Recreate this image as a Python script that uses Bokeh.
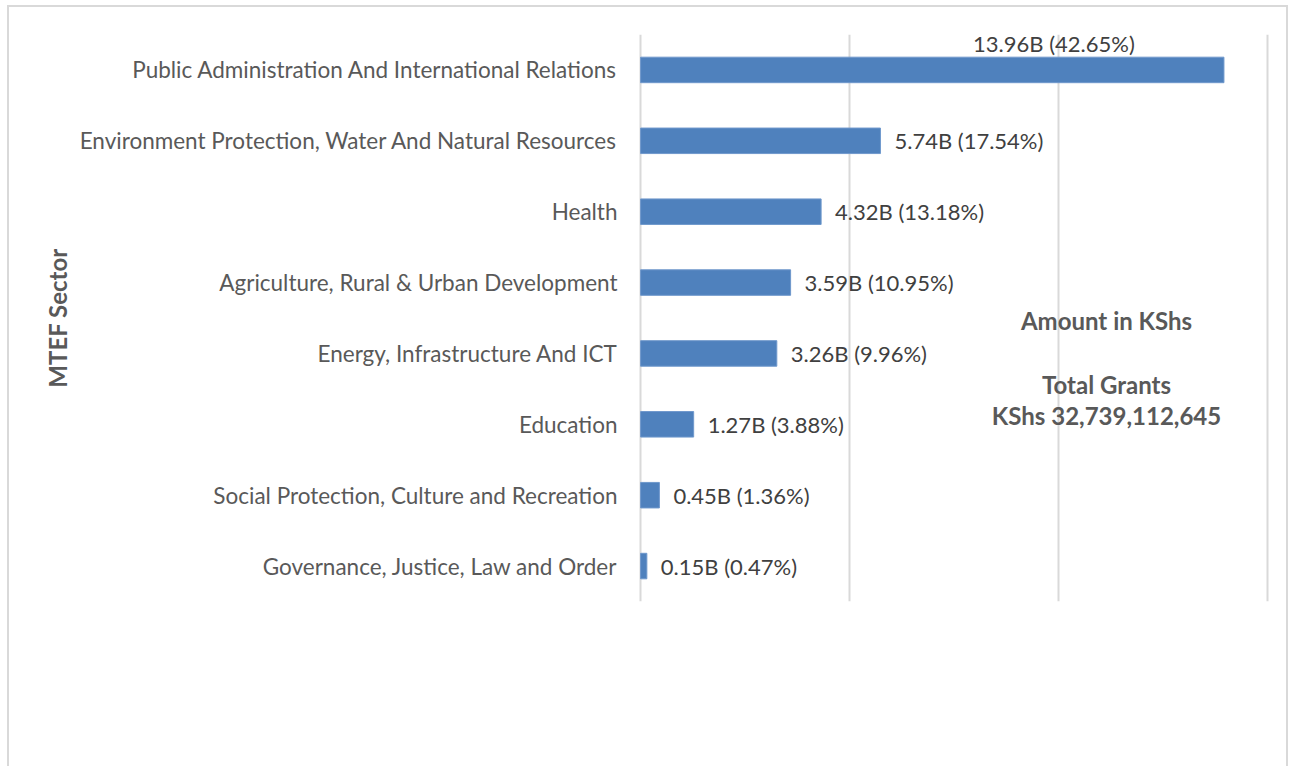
from bokeh.plotting import figure
from bokeh.models import ColumnDataSource, FactorRange, Range1d, FixedTicker, LabelSet, Label
from bokeh.core.properties import value
from bokeh.embed import file_html
from bokeh.resources import INLINE

# ---- data (top to bottom as shown) ----
sectors = [
    "Public Administration And International Relations",
    "Environment Protection, Water And Natural Resources",
    "Health",
    "Agriculture, Rural & Urban Development",
    "Energy, Infrastructure And ICT",
    "Education",
    "Social Protection, Culture and Recreation",
    "Governance, Justice, Law and Order",
]
amounts_b = [13.96, 5.74, 4.32, 3.59, 3.26, 1.27, 0.45, 0.15]
shares_pct = [42.65, 17.54, 13.18, 10.95, 9.96, 3.88, 1.36, 0.47]
grid_ticks = [0, 5, 10, 15]
note_lines = ["Amount in KShs", "Total Grants", "KShs 32,739,112,645"]

FONT = "Lato"
BAR = "#4f81bd"
GRID = "#d9d9d9"

labels = [f"{a:.2f}B ({s:.2f}%)" for a, s in zip(amounts_b, shares_pct)]

p = figure(
    width=1281, height=766,
    y_range=FactorRange(factors=list(reversed(sectors))),
    x_range=Range1d(-0.05, 15.05),
    output_backend="svg", toolbar_location=None,
    min_border_left=629, min_border_right=21,
    min_border_top=27, min_border_bottom=172,
)
p.styles = {"border": "2px solid #d9d9d9", "margin-left": "7px", "margin-top": "5px"}
p.outline_line_color = None
p.background_fill_color = "white"
p.border_fill_color = "white"

src = ColumnDataSource(dict(y=sectors, x=amounts_b, lab=labels))
p.hbar(y="y", right="x", left=0, height=0.36, source=src,
       fill_color=BAR, line_color="#6f98cc", line_width=1)

# value labels (all but the first sit right of the bar end)
rest = ColumnDataSource(dict(y=sectors[1:], x=amounts_b[1:], lab=labels[1:]))
p.add_layout(LabelSet(x="x", y="y", text="lab", source=rest, x_offset=14,
                      text_baseline="middle", text_font=value(FONT),
                      text_font_size="22px", text_color="#404040"))
top = ColumnDataSource(dict(y=sectors[:1], x=amounts_b[:1], lab=labels[:1]))
p.add_layout(LabelSet(x="x", y="y", text="lab", source=top, x_offset=-170, y_offset=26,
                      text_align="center", text_baseline="middle", text_font=value(FONT),
                      text_font_size="22px", text_color="#404040"))

# axes
p.xaxis.visible = False
p.yaxis.axis_line_color = None
p.yaxis.major_tick_line_color = None
p.yaxis.minor_tick_line_color = None
p.yaxis.major_tick_out = 0
p.yaxis.major_tick_in = 0
p.yaxis.major_label_standoff = 21
p.yaxis.major_label_text_font = FONT
p.yaxis.major_label_text_font_size = "22.5px"
p.yaxis.major_label_text_color = "#595959"
p.yaxis.axis_label = "MTEF Sector"
p.yaxis.axis_label_text_font = FONT
p.yaxis.axis_label_text_font_style = "bold"
p.yaxis.axis_label_text_font_size = "24px"
p.yaxis.axis_label_text_color = "#595959"
p.yaxis.axis_label_standoff = 5

p.ygrid.grid_line_color = None
p.xgrid.ticker = FixedTicker(ticks=grid_ticks)
p.xgrid.grid_line_color = GRID
p.xgrid.grid_line_width = 2

# note text block
for txt, yy in zip(note_lines, [3.965, 3.062, 2.624]):
    p.add_layout(Label(x=11.15, y=yy, text=txt, text_align="center",
                       text_baseline="middle", text_font=FONT, text_font_style="bold",
                       text_font_size="24px", text_color="#595959"))

open("out.html", "w").write(file_html(p, INLINE))
